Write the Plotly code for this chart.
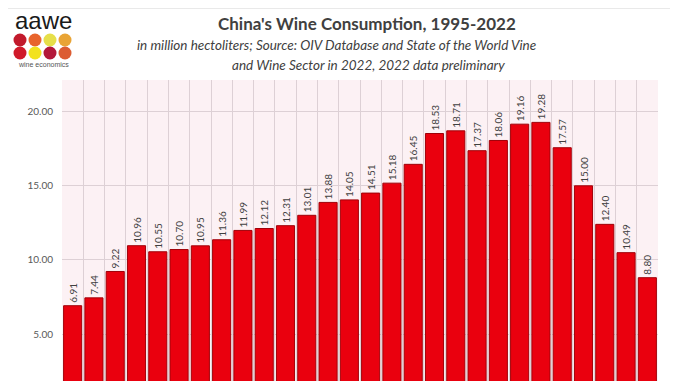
import plotly.graph_objects as go

years = [str(y) for y in range(1995, 2023)]
consumption = [6.91, 7.44, 9.22, 10.96, 10.55, 10.70, 10.95, 11.36, 11.99, 12.12,
               12.31, 13.01, 13.88, 14.05, 14.51, 15.18, 16.45, 18.53, 18.71, 17.37,
               18.06, 19.16, 19.28, 17.57, 15.00, 12.40, 10.49, 8.80]
value_labels = [f"{v:.2f}" for v in consumption]
y_ticks = [5, 10, 15, 20]
y_tick_labels = ["5.00", "10.00", "15.00", "20.00"]

# the page body has an 8px margin; the figure is sized to fill the rest of the window
OFF = 8
W, H = 678 - OFF, 381 - OFF
L, R, T, B = 62 - OFF, 20, 80 - OFF, 0
PW, PH = W - L - R, H - T - B


def px(x):
    return (x - OFF - L) / PW


def py(y):
    return (H - B - (y - OFF)) / PH


fig = go.Figure()
fig.add_trace(go.Bar(
    x=years, y=consumption,
    marker=dict(color="#ea000e", line=dict(color="#a00008", width=1)),
    text=value_labels, textposition="outside", textangle=-90,
    textfont=dict(family="Lato", size=10, color="#404040"),
    constraintext="none", cliponaxis=False,
    hoverinfo="x+y",
))

fig.update_layout(
    width=W, height=H,
    margin=dict(l=L, r=R, t=T, b=B),
    paper_bgcolor="white",
    plot_bgcolor="#fcf1f4",
    bargap=0.15,
    showlegend=False,
    font=dict(family="Lato", color="#404040"),
    xaxis=dict(type="category", tickson="boundaries", showgrid=True,
               gridcolor="#ddd0d5", gridwidth=1, showticklabels=False,
               ticks="", showline=False, zeroline=False),
    yaxis=dict(range=[1.83, 22.14], tickvals=y_ticks, ticktext=y_tick_labels,
               showgrid=True, gridcolor="#ddd0d5", gridwidth=1, zeroline=False,
               tickfont=dict(family="Lato", size=10, color="#595959"),
               ticklabelstandoff=8, showline=False),
)

# outer frame
fig.add_shape(type="rect", xref="paper", yref="paper",
              x0=px(5), x1=px(675), y0=py(395), y1=py(8),
              line=dict(color="#d4d4d4", width=1), layer="below")

# titles
fig.add_annotation(text="<b>China's Wine Consumption, 1995-2022</b>", xref="paper", yref="paper",
                   x=px(367), y=py(24), showarrow=False, xanchor="center", yanchor="middle",
                   font=dict(family="Lato", size=17, color="#404040"))
fig.add_annotation(text="<i>in million hectoliters; Source: OIV Database and State of the World Vine</i>",
                   xref="paper", yref="paper", x=px(336), y=py(45), showarrow=False,
                   xanchor="center", yanchor="middle",
                   font=dict(family="Lato", size=13.5, color="#404040"))
fig.add_annotation(text="<i>and Wine Sector in 2022, 2022 data preliminary</i>",
                   xref="paper", yref="paper", x=px(368), y=py(65), showarrow=False,
                   xanchor="center", yanchor="middle",
                   font=dict(family="Lato", size=13.5, color="#404040"))

# logo
fig.add_annotation(text="aawe", xref="paper", yref="paper", x=px(43), y=py(21),
                   showarrow=False, xanchor="center", yanchor="middle",
                   font=dict(family="Liberation Sans", size=24, color="#1a1a1a"))
fig.add_annotation(text="wine economics", xref="paper", yref="paper", x=px(43), y=py(64),
                   showarrow=False, xanchor="center", yanchor="middle",
                   font=dict(family="Liberation Sans", size=7, color="#555555"))
logo_rows = [
    (40, ["#c21a2c", "#e8642c", "#e6df4a", "#e9a435"]),
    (53, ["#d01a2a", "#f2e21e", "#b3183a", "#dc5c32"]),
]
for cy, colors in logo_rows:
    for i, c in enumerate(colors):
        cx = 20 + 15 * i
        r = 6.5
        fig.add_shape(type="circle", xref="paper", yref="paper",
                      x0=px(cx - r), x1=px(cx + r), y0=py(cy + r), y1=py(cy - r),
                      fillcolor=c, line=dict(width=0))

fig.write_html("out.html")
